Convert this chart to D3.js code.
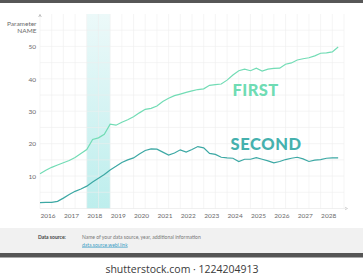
<!DOCTYPE html>
<html>
<head>
<meta charset="utf-8">
<script src="https://cdn.jsdelivr.net/npm/d3@7"></script>
<style>
  html, body { margin: 0; padding: 0; background: #fff; }
  svg { display: block; }
  .tick-label { font-family: 'Lato', sans-serif; font-size: 6.5px; fill: #6a6a6a; }
</style>
</head>
<body>
<svg></svg>
<script>
const W = 363, H = 280

// quarterly readings, 2016.00 .. 2028.75
const START_YEAR = 2016
const FIRST = [10.7, 11.8, 12.7, 13.4, 14.1, 14.8, 15.7, 17.0, 18.2, 21.3, 21.8, 22.9, 26.0,
  25.7, 26.6, 27.4, 28.3, 29.5, 30.6, 30.9, 31.6, 33.0, 34.0, 34.8, 35.3, 35.8, 36.3, 36.7,
  36.9, 38.0, 38.2, 38.4, 39.6, 41.2, 42.5, 43.0, 42.5, 43.3, 42.4, 43.0, 43.2, 43.3, 44.5,
  44.9, 45.8, 46.2, 46.5, 47.1, 47.9, 48.0, 48.3, 49.8]
const SECOND = [1.8, 1.9, 1.9, 2.2, 3.2, 4.3, 5.3, 6.0, 6.9, 8.2, 9.3, 10.5, 11.9, 13.0, 14.2,
  15.0, 15.6, 16.8, 17.9, 18.4, 18.3, 17.4, 16.5, 17.1, 18.1, 17.4, 18.2, 19.1, 18.7, 17.0,
  16.7, 15.8, 15.6, 15.5, 14.5, 15.2, 15.2, 15.7, 15.2, 14.7, 14.1, 14.5, 15.1, 15.5, 15.8,
  15.3, 14.5, 14.9, 15.1, 15.5, 15.6, 15.6]
const YEARS = [2016, 2017, 2018, 2019, 2020, 2021, 2022, 2023, 2024, 2025, 2026, 2027, 2028]
const HIGHLIGHT_YEAR = 2018
const Y_TICKS = [10, 20, 30, 40, 50]
const Y_LABEL = ['Parameter', 'NAME']

const M = { left: 40, right: 344, top: 14, bottom: 208.5 }

const svg = d3.select('svg').attr('width', W).attr('height', H)

const x = d3.scaleLinear().domain([2016, 2029]).range([M.left, M.right])
const y = d3.scaleLinear().domain([0, 60]).range([M.bottom, M.top])

// frame bands
svg.append('rect').attr('x', 0).attr('y', 0).attr('width', W).attr('height', 3).attr('fill', '#575757')
svg.append('rect').attr('x', 0).attr('y', 228).attr('width', W).attr('height', 25).attr('fill', '#f1f1f1')
svg.append('rect').attr('x', 0).attr('y', 253).attr('width', W).attr('height', 4.5).attr('fill', '#555')

// highlight band
const defs = svg.append('defs')
const grad = defs.append('linearGradient').attr('id', 'band').attr('x1', 0).attr('y1', 0).attr('x2', 0).attr('y2', 1)
grad.append('stop').attr('offset', '0%').attr('stop-color', '#ecf9f9')
grad.append('stop').attr('offset', '100%').attr('stop-color', '#bdeeed')
svg.append('rect')
  .attr('x', x(HIGHLIGHT_YEAR)).attr('y', M.top)
  .attr('width', x(HIGHLIGHT_YEAR + 1) - x(HIGHLIGHT_YEAR))
  .attr('height', M.bottom - M.top)
  .attr('fill', 'url(#band)')

// grid
const grid = svg.append('g').attr('stroke', '#efefef').attr('stroke-width', 0.6)
grid.selectAll('line.v')
  .data(d3.range(2016, 2029.01, 0.5))
  .enter().append('line')
  .attr('x1', d => x(d)).attr('x2', d => x(d))
  .attr('y1', M.top).attr('y2', M.bottom)
grid.selectAll('line.h')
  .data(d3.range(5, 56, 5))
  .enter().append('line')
  .attr('x1', M.left).attr('x2', M.right)
  .attr('y1', d => y(d)).attr('y2', d => y(d))

// axes
const xAxis = d3.axisBottom(x).tickValues(YEARS).tickSize(0).tickFormat(d3.format('d'))
const gx = svg.append('g').attr('transform', `translate(0, ${M.bottom})`).call(xAxis)
gx.select('.domain').attr('stroke', '#e6e6e6').attr('stroke-width', 0.6).attr('d', `M${M.left},0H${M.right + 2}`)
gx.selectAll('text').attr('class', 'tick-label').attr('text-anchor', 'start').attr('dy', null).attr('y', 9)
  .attr('fill', d => d === HIGHLIGHT_YEAR ? '#55c4c0' : '#6a6a6a')
svg.append('path').attr('d', `M${M.right + 1},${M.bottom - 1.3}L${M.right + 3.5},${M.bottom}L${M.right + 1},${M.bottom + 1.3}`)
  .attr('fill', 'none').attr('stroke', '#bbb').attr('stroke-width', 0.6)

const yAxis = d3.axisLeft(y).tickValues(Y_TICKS).tickSize(0)
const gy = svg.append('g').attr('transform', `translate(${M.left}, 0)`).call(yAxis)
gy.select('.domain').remove()
gy.selectAll('text').attr('class', 'tick-label').attr('x', -4).attr('dy', '0.35em')
svg.append('path').attr('d', `M${M.left - 1.3},${M.top + 3}L${M.left},${M.top + 0.5}L${M.left + 1.3},${M.top + 3}`)
  .attr('fill', 'none').attr('stroke', '#999').attr('stroke-width', 0.6)

svg.append('g').selectAll('text')
  .data(Y_LABEL).enter().append('text')
  .attr('class', 'tick-label')
  .attr('x', 36.5).attr('y', (d, i) => 25.5 + i * 7.5)
  .attr('text-anchor', 'end')
  .text(d => d)

// lines
const line = d3.line().x((d, i) => x(START_YEAR + i / 4)).y(d => y(d))
svg.append('path').datum(FIRST).attr('d', line).attr('fill', 'none').attr('stroke', '#72dcb5').attr('stroke-width', 1.2)
svg.append('path').datum(SECOND).attr('d', line).attr('fill', 'none').attr('stroke', '#3ca8a4').attr('stroke-width', 1.2)

svg.append('text').text('FIRST').attr('x', 232.5).attr('y', 95.5)
  .attr('fill', '#6fdcb4').style('font-family', 'Lato, sans-serif').style('font-weight', 900)
  .style('font-size', '16.5px').style('letter-spacing', '0.4px')
svg.append('text').text('SECOND').attr('x', 230.5).attr('y', 149.5)
  .attr('fill', '#45b1ae').style('font-family', 'Lato, sans-serif').style('font-weight', 900)
  .style('font-size', '16.5px').style('letter-spacing', '0.6px')

// footer
svg.append('text').text('Data source:').attr('x', 38).attr('y', 238.5)
  .style('font-family', 'Lato, sans-serif').style('font-size', '5px').style('font-weight', 'bold').attr('fill', '#444')
svg.append('text').text('Name of your data source, year, additional information').attr('x', 82).attr('y', 238.5)
  .style('font-family', 'Lato, sans-serif').style('font-size', '5px').attr('fill', '#777')
svg.append('text').text('data.source.webl.link').attr('x', 82).attr('y', 246.5)
  .style('font-family', 'Lato, sans-serif').style('font-size', '5px').attr('fill', '#3a9cc4')
  .style('text-decoration', 'underline')

svg.append('text').text('shutterstock.com · 1224204913').attr('x', 182).attr('y', 272.5)
  .attr('text-anchor', 'middle')
  .style('font-family', '"Open Sans", sans-serif').style('font-size', '10.5px').attr('fill', '#3a3a3a')
</script>
</body>
</html>
